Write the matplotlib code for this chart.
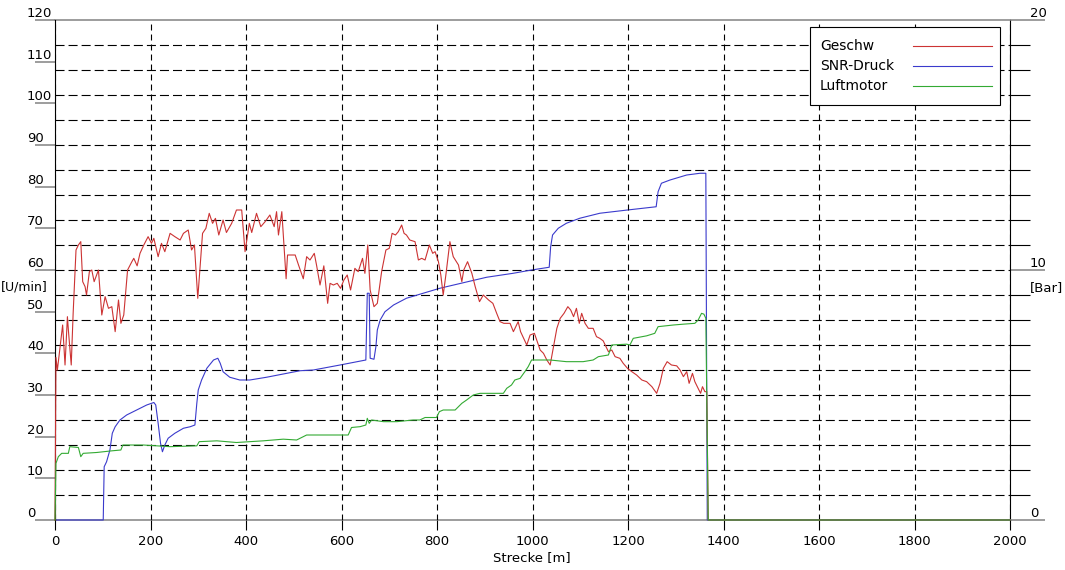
import matplotlib
matplotlib.use('Agg')
import matplotlib.pyplot as plt
import numpy as np
from matplotlib.patches import Rectangle
from matplotlib.lines import Line2D

plt.rcParams['font.family'] = ['DejaVu Sans']
plt.rcParams['font.size'] = 9.5
plt.rcParams['lines.scale_dashes'] = False

# Geschwindigkeit [U/min] (linke Achse)
geschw_x = [0, 2, 5, 9, 16, 21, 26, 28, 34, 38, 44, 49, 54, 58, 63, 66, 72, 77, 82, 91,
            98, 105, 112, 119, 126, 133, 138, 144, 152, 161, 165, 172, 178, 186, 195, 202,
            207, 216, 223, 230, 241, 251, 262, 269, 279, 286, 292, 299, 309, 316, 323, 330,
            336, 343, 352, 359, 370, 380, 391, 398, 407, 412, 422, 431, 440, 450, 459, 464,
            468, 475, 484, 487, 503, 510, 520, 527, 534,
            543, 548, 555, 563, 571, 576, 583, 591, 598, 605, 612, 619, 628, 635, 644, 649,
            655, 660, 668, 675, 684, 693, 700, 706, 713, 719, 726, 731, 736, 743, 754, 761,
            768, 775, 784, 791, 796, 803, 808, 813, 819, 827, 834, 845, 852, 856, 864, 873,
            880, 889, 897, 908, 917, 925, 932, 940, 953, 960, 970, 975, 988, 995, 1004, 1016,
            1023, 1030, 1037, 1044, 1051, 1058, 1066, 1074, 1080, 1086, 1092, 1098, 1103,
            1110, 1117, 1127, 1134, 1141, 1148, 1159, 1166, 1173, 1183, 1190, 1199, 1208,
            1218, 1229, 1239, 1250, 1260, 1267, 1274, 1282, 1291, 1302, 1309, 1316, 1323,
            1328, 1335, 1340, 1347, 1352, 1356, 1361, 1365, 1368, 2000]
geschw_y = [0, 39, 36, 40, 46.8, 37.2, 48.8, 45.6, 37.2, 49.6, 64.8, 66, 66.8, 57.2, 56, 54,
            59.6, 60, 57.2, 60, 49.2, 53.6, 50.8, 51.2, 45.2, 52.8, 47.2, 49.2, 60, 62, 62.8,
            61, 64, 66, 68, 66.4, 67.6, 63.2, 66.4, 64.4, 68.8, 68, 67.2, 68.8, 69.6, 64.8,
            66, 53.2, 68.8, 70, 73.6, 71.2, 72.4, 68.4, 72, 69, 71.2, 74.4, 74.4, 64.4, 71.2,
            69, 73.6, 70.4, 71.6, 73.2, 70.4, 74, 68.4, 74, 57.9, 63.6, 63.6, 61.2, 57.9,
            63.2, 62.4,
            64, 61, 56.4, 61, 52, 56.8, 56.4, 56.8, 55.6, 57.6, 58.8, 55.2, 60.4, 59.6, 62.8,
            59.2, 66, 55.2, 51.2, 52, 59.6, 64.8, 65.2, 68.8, 68.4, 69.2, 70.8, 68.8, 68.4,
            67.2, 66.8, 62.4, 62.8, 62.4, 66, 64, 64.4, 62, 58.8, 54, 59.2, 66.8, 63.2, 61.2,
            57.2, 60, 62, 59.2, 56, 52.4, 54, 52.8, 52, 49.6, 47.6, 47.2, 47.2, 45.2, 47.6,
            45.2, 42, 44.4, 44.8, 40.8,
            40, 38.4, 37.2, 41.6, 46, 48.4, 49.6, 51.2, 50.4, 48.8, 50.8, 47.2, 49.6, 47.2,
            46, 46, 44, 43.6, 43, 40.4, 40.8, 39.2, 38.8, 37.6, 36.4, 35.6, 34.8, 33.6, 33.2,
            32, 30.4, 32.8, 36.4, 38, 37.2, 37, 36, 34.4, 35.6, 32.8, 35.2, 33.2, 31.6, 30.4,
            32, 30.8, 30.8, 0, 0]

# SNR-Druck [Bar] (rechte Achse)
druck_x = [0, 101, 103, 108, 115, 120, 126, 136, 150, 171, 192, 207, 211, 216, 221, 225,
           230, 237, 251, 269, 283, 293, 297, 300, 307, 318, 332, 341, 346, 352, 366, 387,
           408, 443, 478, 513, 541, 597, 651, 654, 658, 660, 668, 672, 675, 681, 691, 709,
           736, 771, 806, 855, 904, 960, 998, 1035, 1038, 1042, 1054, 1071, 1099, 1141,
           1199, 1259, 1263, 1270, 1288, 1323, 1351, 1363, 1366, 2000]
druck_y = [0, 0, 2.13, 2.33, 2.8, 3.47, 3.73, 4.0, 4.2, 4.4, 4.6, 4.7, 4.6, 3.87, 3.07, 2.73,
           3.0, 3.27, 3.47, 3.67, 3.73, 3.8, 4.67, 5.2, 5.6, 6.07, 6.4, 6.47, 6.27, 5.93, 5.71,
           5.6, 5.6, 5.71, 5.84, 5.97, 6.0, 6.2, 6.4, 9.07, 9.07, 6.47, 6.43, 6.93, 7.6, 8.0,
           8.33, 8.6, 8.87, 9.07, 9.27, 9.49, 9.71, 9.87, 10.0, 10.11, 10.93, 11.4, 11.67,
           11.87, 12.07, 12.27, 12.4, 12.53, 13.13, 13.47, 13.6, 13.8, 13.87, 13.87, 0, 0]

# Luftmotor (linke Achse)
luft_x = [0, 2, 7, 14, 28, 31, 49, 54, 59, 87, 119, 138, 142, 185, 241, 297, 302, 339, 380,
          436, 478, 506, 520, 527, 597, 614, 621, 639, 651, 654, 658, 663, 688, 716, 750,
          764, 775, 799, 805, 813, 838, 845, 852, 862, 876, 890, 918, 939, 946, 956, 963,
          974, 984, 991, 998, 1037, 1071, 1106, 1127, 1138, 1159, 1166, 1197, 1204, 1211,
          1239, 1256, 1263, 1295, 1316, 1340, 1347, 1354, 1359, 1363, 1368, 2000]
luft_y = [0, 13.6, 15.2, 16, 16, 17.6, 17.4, 15.2, 16, 16.2, 16.6, 16.8, 18, 18, 17.6, 17.8,
          18.8, 19, 18.6, 19, 19.4, 19.2, 20, 20.4, 20.4, 20.4, 22.2, 22.4, 22.8, 24.4, 23.2,
          24, 23.6, 23.6, 24, 24, 24.6, 24.6, 26, 26.4, 26.4, 27.2, 28, 28.8, 30, 30.4, 30.4,
          30.4, 31.6, 32.4, 33.6, 34, 35.6, 36.8, 38.4, 38.4, 38, 38, 38.4, 39.2, 39.6, 42,
          42.2, 42, 43.6, 44.2, 44.8, 46.4, 46.8, 47, 47.2, 48, 49.6, 49.4, 48.4, 0, 0]

names = ['Geschw', 'SNR-Druck', 'Luftmotor']
colors = ['#cc3333', '#3a3acc', '#33aa33']

W, H = 1065, 570
fig = plt.figure(figsize=(W / 100, H / 100), dpi=100)
ax = fig.add_axes([55 / W, 50 / H, 955 / W, 500 / H])
ax2 = ax.twinx()
# ax2 (Druck + Raster) unten, ax (Geschw, Luftmotor) oben
ax.set_zorder(ax2.get_zorder() + 1)
ax.patch.set_visible(False)

ax.set_xlim(0, 2000)
ax.set_ylim(0, 120)
ax2.set_ylim(0, 20)

# Raster: waagrecht je 1 bar, senkrecht je 200 m
ax2.hlines(np.arange(1, 20), 0, 2000, colors='black', linewidth=0.8,
           linestyles=[(0, (6.5, 2.9))], zorder=1)
ax.grid(axis='x', color='black', linewidth=0.8, linestyle=(0, (4.3, 2.9)))

ax2.plot(druck_x, druck_y, color=colors[1], lw=0.8, zorder=3, clip_on=False)
ax.plot(geschw_x, geschw_y, color=colors[0], lw=0.8, zorder=3, clip_on=False)
ax.plot(luft_x, luft_y, color=colors[2], lw=0.8, zorder=4, clip_on=False)

# x-Achse
ax.set_xticks(np.arange(0, 2001, 200))
ax.tick_params(axis='x', direction='out', length=7.2, width=0.8, color='black', pad=3.6)

# linke Achse
ax.set_yticks(np.arange(0, 121, 10))
ax.tick_params(axis='y', direction='out', length=14.4, width=1.2, color='#8c8c8c', pad=5.8)
plt.setp(ax.get_yticklabels(), ha='left', va='bottom')

# rechte Achse
ax2.set_yticks([0, 10, 20])
ax2.set_yticks(np.arange(0, 21, 1), minor=True)
ax2.tick_params(axis='y', which='major', direction='out', length=25.2, width=1.2,
                color='#8c8c8c', pad=-10.8)
ax2.tick_params(axis='y', which='minor', direction='out', length=14.4, width=0.8, color='black')
plt.setp(ax2.get_yticklabels(), ha='left', va='bottom')

# Rahmen: oben/unten grau (auf ax2, damit die Kurven darüber liegen)
for s in ['top', 'bottom', 'right']:
    ax.spines[s].set_visible(False)
ax.spines['left'].set_color('black')
ax.spines['left'].set_linewidth(0.8)
ax2.spines['left'].set_visible(False)
for s in ['top', 'bottom']:
    ax2.spines[s].set_color('#8c8c8c')
    ax2.spines[s].set_linewidth(1.2)
ax2.spines['right'].set_color('black')
ax2.spines['right'].set_linewidth(0.8)

# Achsenbeschriftungen
fig.text(1 / W, 1 - 287 / H, '[U/min]', ha='left', va='center', fontsize=9)
fig.text(1030 / W, 1 - 288 / H, '[Bar]', ha='left', va='center')
fig.text(532 / W, 1 - 558 / H, 'Strecke [m]', ha='center', va='center')

# Legende
fig.add_artist(Rectangle((810 / W, 1 - 105 / H), 190 / W, 78 / H, transform=fig.transFigure,
                         facecolor='white', edgecolor='black', lw=0.8, zorder=5))
for i, (name, c) in enumerate(zip(names, colors)):
    yy = 1 - (46 + 20 * i) / H
    fig.text(820 / W, yy, name, ha='left', va='center', fontsize=10, zorder=6)
    fig.add_artist(Line2D([913 / W, 992 / W], [yy, yy], transform=fig.transFigure,
                          color=c, lw=0.8, zorder=6))

fig.savefig('out.png', dpi=100)
